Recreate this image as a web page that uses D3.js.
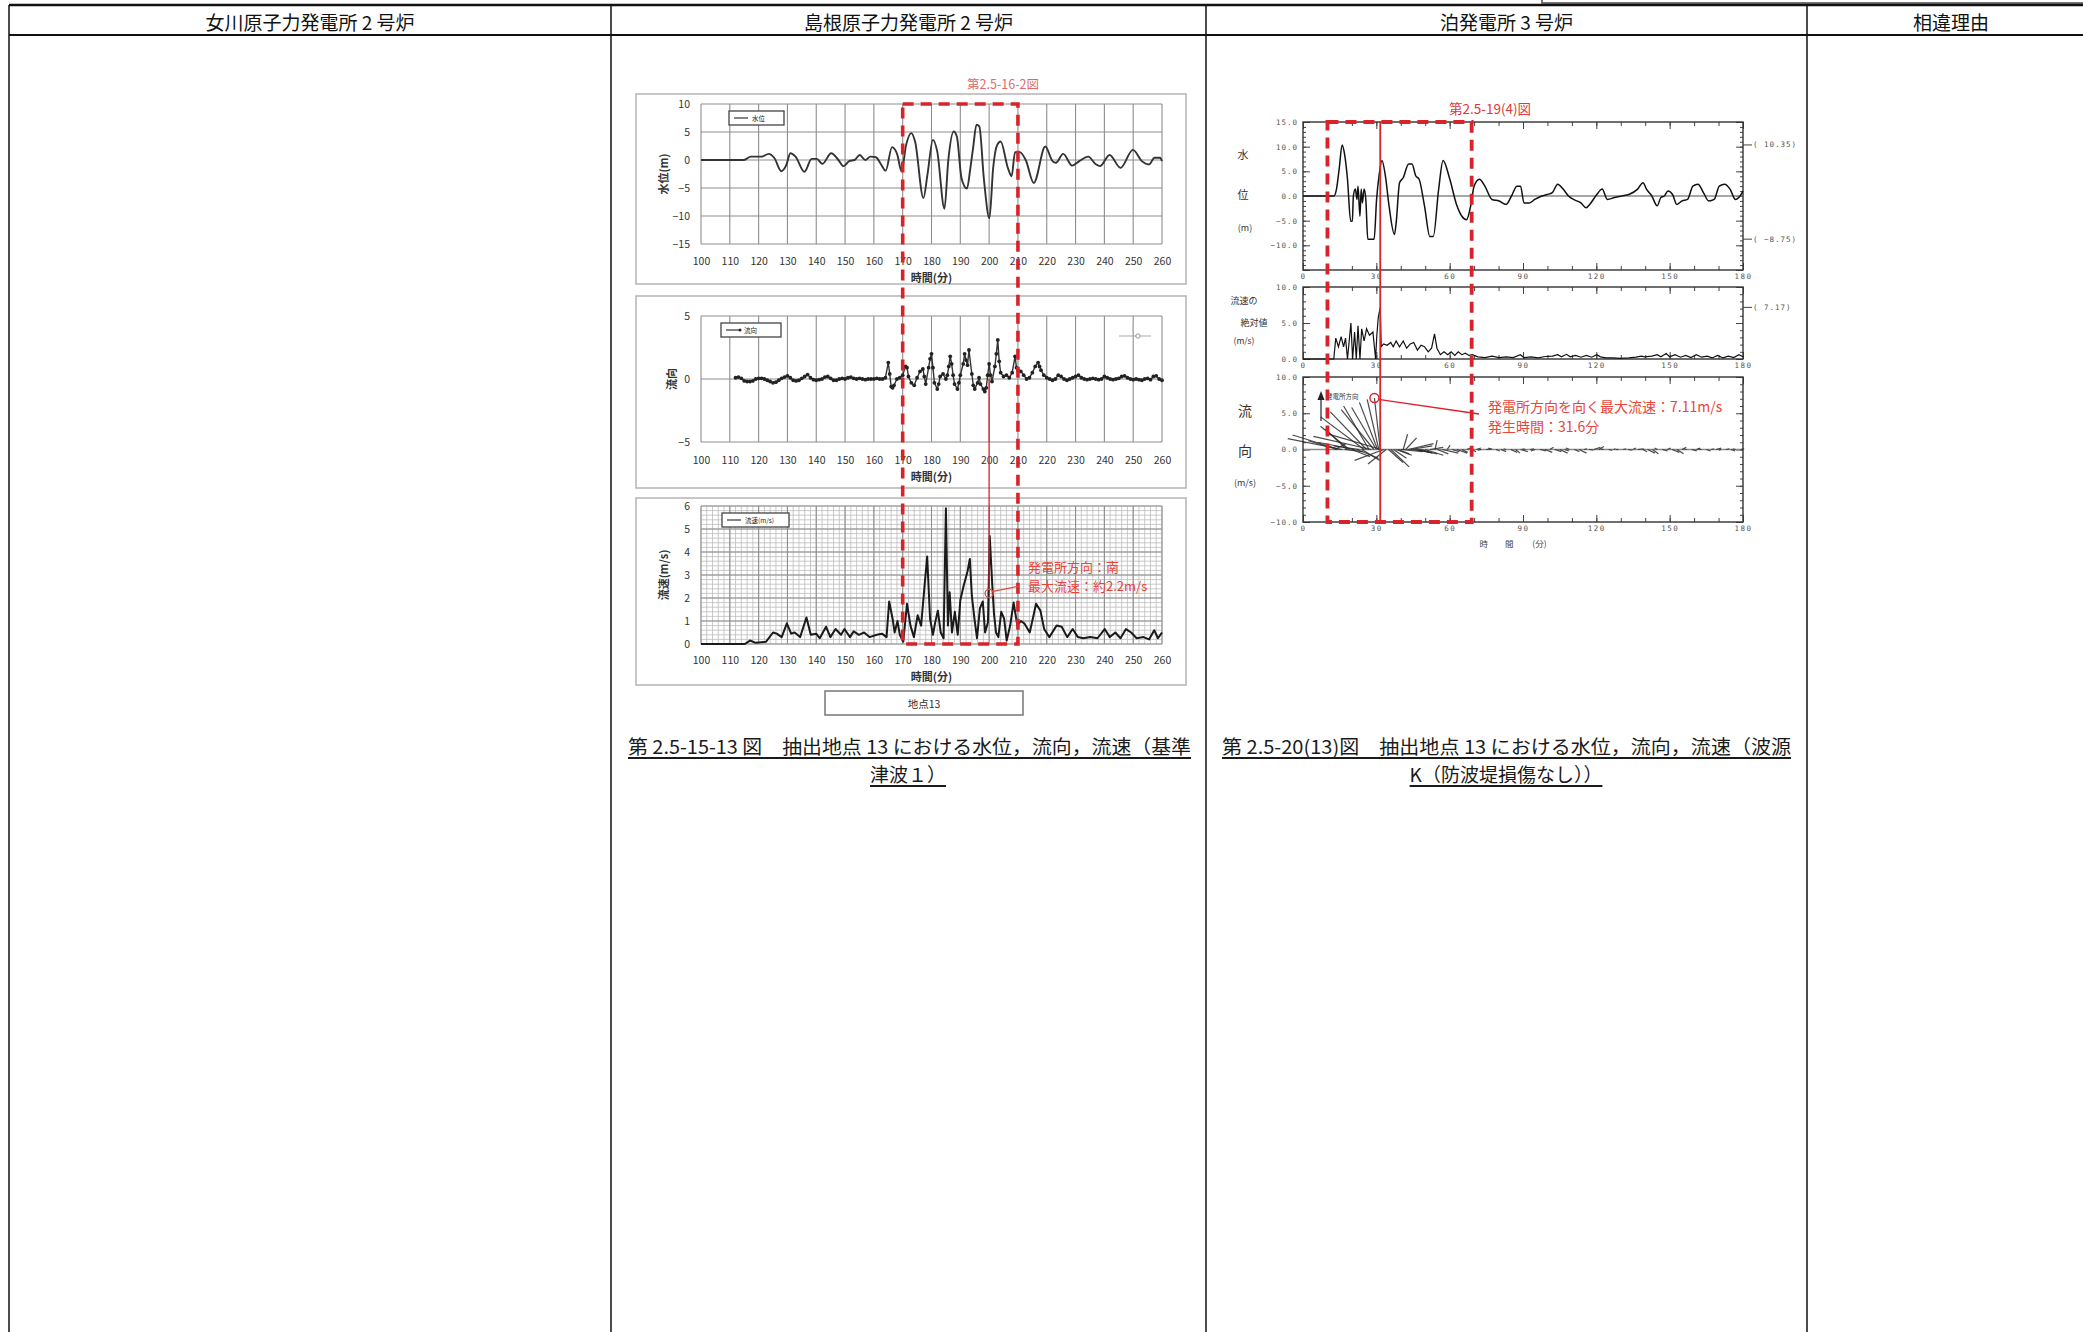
<!DOCTYPE html>
<html>
<head>
<meta charset="utf-8">
<script src="https://cdn.jsdelivr.net/npm/d3@7"></script>
<style>
html, body { margin: 0; padding: 0; background: #fff; }
svg { display: block; }
</style>
</head>
<body>
<svg id="page" width="2083" height="1332"></svg>
<script>
// ---------- table header ----------
const columnTitles = ["女川原子力発電所 2 号炉", "島根原子力発電所 2 号炉", "泊発電所 3 号炉", "相違理由"];

// ---------- Shimane unit 2 : point 13 (time in minutes) ----------
const shimaneTimeTicks = [100, 110, 120, 130, 140, 150, 160, 170, 180, 190, 200, 210, 220, 230, 240, 250, 260];
const shimaneLevelTicks = [10, 5, 0, -5, -10, -15];
const shimaneDirTicks = [5, 0, -5];
const shimaneSpeedTicks = [6, 5, 4, 3, 2, 1, 0];

// water level (m)
const shimaneLevel = [
  [100, 0], [114.9, 0], [117.3, 0.6], [121, 0.6], [123.5, 1.1], [125.4, 0.4], [127.9, -2.0], [129.7, -0.8],
  [131, 1.2], [132.8, 0.6], [135.9, -2.1], [138.4, 0.2], [140.2, 0.2], [142.1, -0.7], [145.2, 1.2], [147.7, 0],
  [149.5, -1.1], [151.4, -0.2], [153.3, 0], [155.1, 0.9], [157, 0], [158.8, 0.6], [160.7, 0.5], [162.5, -0.8],
  [164.1, -1.9], [166.3, 2.3], [168.1, 1.0], [169.6, -2.0], [171.2, 2.7], [173, 4.8], [174.3, 3.3], [177.2, -6.8],
  [178.6, -2.6], [180.5, 3.6], [182, 1.5], [184.5, -8.7], [185.8, -0.2], [187.7, 5.1], [188.8, 4.2], [190.4, -3.2],
  [192.3, -5.1], [193.5, -1.4], [194.5, 2.4], [195.6, 6.3], [196.6, 6.0], [198.2, -3.5], [200.1, -10.4], [201.4, -1.4],
  [202.8, 2.7], [204, 3.3], [206.5, -1.4], [207.8, -2.9], [209, 1.4], [210.6, 1.4], [212.7, 0], [215.5, -4.1],
  [219.5, 2.4], [222, -0.2], [223.2, -0.5], [225.7, 1.1], [228.8, -1.0], [231.3, -0.2], [234.4, 0.6], [236.9, -0.7],
  [238.5, -1.1], [241.8, 0.9], [245.6, -1.4], [249.9, 1.8], [253, -0.2], [255.5, -0.8], [257.4, 0.4], [259.3, 0.4],
  [260, -0.2]
];

// flow direction component (m/s)
const shimaneDirection = [
  [112, 0.1], [113, 0.15], [114, 0.05], [115, -0.15], [116, -0.2], [117, -0.2], [118, -0.15], [119, 0.0], [120, 0.05],
  [121, 0.05], [122, 0.0], [123, -0.1], [124, -0.2], [125, -0.3], [126, -0.25], [127, -0.1], [128, 0.05], [129, 0.15],
  [130, 0.25], [131, 0.1], [132, -0.1], [133, -0.15], [134, -0.1], [135, 0.05], [136, 0.2], [137, 0.35], [138, 0.1],
  [139, -0.05], [140, -0.1], [141, -0.05], [142, 0.0], [143, 0.15], [144, 0.2], [145, 0.05], [146, -0.1], [147, -0.1],
  [148, 0.0], [149, 0.05], [150, 0.0], [151, 0.1], [152, 0.15], [153, 0.05], [154, 0.0], [155, 0.05], [156, 0.0],
  [157, -0.05], [158, 0.0], [159, 0.0], [160, 0.0], [161, 0.05], [162, 0.0], [163, 0.0], [164, 0.1], [165, 1.3],
  [165.5, 0.4], [166, -0.6], [166.5, -0.7], [167, -0.5], [168, 0.0], [169, 0.1], [170, 0.3], [171, 1.0], [171.5, 0.9],
  [172, 0.2], [173, -0.3], [174, -0.5], [175, 0.1], [176, 0.6], [177, 0.8], [177.5, 0.2], [178, -0.4], [179, 0.9],
  [179.5, 1.6], [180, 2.0], [180.5, 0.9], [181, -0.3], [182, -0.8], [182.5, -0.4], [183, 0.2], [184, 0.4], [185, 0.0],
  [185.5, 0.3], [186, 1.0], [186.5, 1.8], [187, 1.2], [187.5, 0.3], [188, -0.4], [189, -0.8], [189.5, -0.3], [190, 0.3],
  [191, 1.2], [191.5, 2.0], [192, 1.5], [192.5, 1.1], [193, 2.3], [194, 0.4], [194.5, -0.5], [195, -0.8], [196, -0.3],
  [196.5, 0.1], [197, -0.4], [198, -0.8], [198.5, -1.0], [199, -0.7], [199.5, 0.3], [200, 1.2], [200.5, 0.3], [201, -0.2],
  [202, 1.0], [202.5, 2.0], [203, 3.1], [203.5, 1.4], [204, 0.5], [205, 0.2], [206, 0.3], [207, 0.1], [208, 0.5],
  [209, 1.8], [209.5, 0.9], [210, 0.7], [211, 0.6], [212, 0.3], [213, 0.0], [214, 0.1], [215, 0.5], [216, 1.0],
  [217, 1.3], [217.5, 1.0], [218, 0.7], [219, 0.3], [220, 0.1], [221, 0.0], [222, -0.1], [223, 0.0], [224, 0.3],
  [225, 0.2], [226, 0.0], [227, -0.1], [228, 0.0], [229, 0.1], [230, 0.2], [231, 0.3], [232, 0.1], [233, 0.0],
  [234, -0.05], [235, 0.0], [236, 0.05], [237, 0.0], [238, -0.05], [239, 0.0], [240, 0.2], [241, 0.1], [242, 0.0],
  [243, -0.05], [244, 0.0], [245, 0.05], [246, 0.2], [247, 0.25], [248, 0.1], [249, 0.0], [250, -0.05], [251, 0.0],
  [252, -0.05], [253, -0.1], [254, 0.0], [255, 0.05], [256, -0.05], [257, 0.2], [258, 0.25], [259, 0.0], [260, -0.1]
];

// current speed (m/s)
const shimaneSpeed = [
  [100, 0], [115.2, 0], [117, 0.15], [119, 0.05], [122.6, 0.1], [125, 0.5], [126.3, 0.45], [128, 0.3], [129.8, 0.9],
  [131.3, 0.45], [132.5, 0.5], [134.4, 0.3], [136.6, 1.15], [138.1, 0.4], [140, 0.45], [141.2, 0.25], [143.4, 0.75],
  [144.9, 0.3], [146.7, 0.65], [148.6, 0.4], [149.8, 0.65], [151.7, 0.3], [153, 0.55], [154.8, 0.4], [156.6, 0.5],
  [158.5, 0.3], [161, 0.4], [162.8, 0.45], [164.4, 0.3], [165.3, 1.85], [166.5, 1.1], [167.2, 0.5], [168.2, 1.0],
  [169, 0.4], [170.2, 0.1], [171.5, 1.75], [172.7, 0.8], [173.9, 0.3], [175.2, 1.25], [176.4, 0.8], [177.6, 2.55],
  [178.5, 3.8], [179.5, 1.1], [180.5, 0.4], [181.3, 0.95], [182.2, 1.45], [183.2, 0.5], [184.2, 0.25], [185, 5.9],
  [185.7, 0.8], [186.3, 2.25], [187.1, 0.5], [188.1, 1.4], [189.1, 0.4], [190, 1.9], [191.2, 2.55], [192.5, 3.15],
  [193.3, 3.7], [194, 2.1], [194.9, 1.1], [195.8, 0.25], [196.8, 1.55], [197.8, 1.85], [198.6, 0.5], [199.6, 0.95],
  [200.2, 4.7], [201.1, 2.55], [201.7, 1.3], [202.4, 0.5], [203.2, 0.3], [204.2, 1.4], [205.2, 1.1], [206.1, 0.15],
  [207.3, 0.8], [208.5, 1.8], [209.8, 0.8], [211, 1.0], [212.2, 0.9], [214.1, 0.5], [216.3, 1.75], [217.8, 1.45],
  [219.1, 0.65], [220.9, 0.3], [223.4, 0.8], [225.2, 0.75], [227.1, 0.3], [229, 0.65], [230.8, 0.3], [232.7, 0.25],
  [235.1, 0.3], [237.6, 0.25], [240.1, 0.65], [241.9, 0.3], [243.8, 0.5], [245.6, 0.25], [247.5, 0.65], [249.3, 0.5],
  [251.2, 0.25], [253.6, 0.3], [255.5, 0.2], [257.3, 0.6], [258.6, 0.25], [260, 0.5]
];

const shimaneWindow = [170, 210];        // highlighted time window (min)
const shimaneMarkTime = 200;             // time of the annotated maximum
const shimaneMarkSpeed = 2.2;            // 最大流速 約2.2m/s
const shimaneNotes = ["発電所方向：南", "最大流速：約2.2m/s"];

// ---------- Tomari unit 3 : point 13 (time in minutes) ----------
const tomariTimeTicks = [0, 30, 60, 90, 120, 150, 180];
const tomariLevelTicks = [15, 10, 5, 0, -5, -10];
const tomariSpeedTicks = [10, 5, 0];
const tomariDirTicks = [10, 5, 0, -5, -10];

// water level (m)
const tomariLevel = [
  [0, 0], [12.6, 0], [13.7, 1.4], [14.8, 5.5], [16, 10.35], [17, 8.5], [18.2, 3.4], [19.5, -5.1], [20.2, -5.1],
  [20.6, 0], [21.4, 1.4], [22.1, -0.7], [22.5, 2.0], [23.3, -4.1], [23.8, 1.4], [24.3, -1.4], [25, 1.4], [25.7, -0.7],
  [26.5, -8.75], [29.1, -8.75], [30.1, -0.7], [31.1, 4.1], [32.3, 7.2], [33.7, 4.1], [35.2, -2.0], [37.4, -7.8],
  [38.1, -5.5], [39.5, 2.7], [41, 3.7], [43.2, 6.5], [44.6, 6.5], [46.1, 4.1], [47.5, 3.4], [49.7, -2.0], [51.9, -8.2],
  [53.3, -8.2], [55.5, 1.4], [57.3, 7.2], [59.9, 3.7], [62.8, -1.7], [65, -4.1], [66.9, -4.8], [68.6, -2.0], [70, 2.0],
  [72.2, 3.4], [74.4, 2.0], [77.3, -0.7], [80.2, -1.0], [83.1, -1.7], [85.3, 0], [87.5, 2.0], [89, 2.0], [90.4, -1.4],
  [92.6, -1.4], [94.8, -0.7], [97.7, 0], [99.9, 0.3], [102, 0.7], [104.2, 2.4], [106.4, 1.4], [108.6, 0], [110.7, -0.7],
  [113.7, -1.4], [115.8, -2.4], [117.3, -1.7], [120.2, 0.3], [122.4, 1.4], [124.5, -0.7], [127.5, -0.3], [130.4, 0],
  [133.3, 0.3], [136.9, 1.4], [139.1, 2.7], [140.5, 1.4], [142.7, 0], [144.9, -2.0], [146.4, -0.3], [147.8, 0],
  [149.3, 1.0], [151.2, 0.3], [152.9, -1.7], [155.1, -1.0], [157.3, -0.7], [159.5, 2.0], [161.6, 2.4], [163.8, 0.7],
  [166, -1.0], [168.2, -0.7], [170.3, 2.0], [172.5, 2.4], [174.7, 1.4], [176.9, -0.7], [178.3, -0.3], [180, 1.0]
];

// absolute current speed (m/s)
const tomariSpeed = [
  [0, 0], [12.6, 0], [13.4, 2.9], [14.5, 1.7], [15.6, 3.1], [16.6, 1.7], [17.4, 2.9], [18.2, 0], [18.9, 2.5],
  [19.6, 5.0], [20.3, 0], [21.1, 3.75], [21.8, 0], [22.5, 4.6], [23.3, 0], [24, 4.2], [25, 2.5], [26, 4.2], [27.2, 3.3],
  [28.6, 3.75], [29.7, 0], [30.2, 3.3], [30.8, 5.8], [31.6, 7.17], [32, 1.7], [33, 2.1], [34.4, 1.9], [35.9, 2.3],
  [36.9, 1.7], [38.1, 2.5], [39.5, 1.7], [41, 2.5], [42.4, 1.5], [43.9, 2.1], [45.3, 2.3], [46.8, 1.25], [48.3, 1.9],
  [49.7, 1.7], [51.2, 1.0], [52.6, 1.5], [53.8, 3.5], [54.8, 1.5], [56.2, 0.6], [57.7, 1.0], [59.2, 0.6], [60.6, 1.0],
  [62.1, 0.5], [63.5, 1.0], [65, 0.6], [66.4, 0.8], [67.9, 0.5], [69.3, 0.6], [71.5, 0.3], [74.4, 0.2], [77.3, 0.4],
  [80.2, 0.2], [83.1, 0.3], [86, 0.2], [88.9, 0.6], [90.4, 0.2], [93.3, 0.3], [96.2, 0.15], [99.1, 0.35], [102, 0.4],
  [104.2, 0.6], [105.7, 0.3], [107.8, 0.65], [109.3, 0.3], [111.5, 0.5], [113.7, 0.25], [115.9, 0.5], [118.1, 0.25],
  [120.2, 0.6], [121.7, 0.3], [123.9, 0.15], [126.8, 0.15], [129.7, 0.1], [133.3, 0.15], [136.2, 0.25], [138.4, 0.4],
  [139.8, 0.3], [142.7, 0.4], [144.9, 0.6], [146.4, 0.3], [148.6, 0.75], [150, 0.3], [152.2, 0.6], [154.4, 0.25],
  [156.6, 0.5], [158.7, 0.2], [160.9, 0.6], [163.1, 0.25], [165.3, 0.4], [167.4, 0.15], [169.6, 0.5], [171.8, 0.15],
  [174, 0.4], [176.2, 0.2], [178.3, 0.6], [180, 0.3]
];

// current vectors: [time, east-west component, toward-plant component] (m/s)
const tomariVectors = [
  [13, 1.5, 0.8], [14, -4.0, 1.2], [15, -6.5, 2.0], [16, -7.5, 1.5], [17, 2.5, -0.3], [18, -3.0, 2.8], [19, -4.0, 3.2],
  [20, 2.5, -1.0], [21, -5.0, 1.0], [22, 3.0, -1.2], [23, -3.5, 0.5], [24, 2.5, -1.5], [25, -6.0, 4.5], [26, -5.0, 5.2],
  [27, -3.5, 6.0], [28, -8.0, 1.8], [29, -4.5, 5.5], [30, -3.4, 5.8], [30.5, -2.5, 6.5], [31, -1.6, 6.9], [31.6, -0.8, 7.11],
  [32, -7.5, 2.2], [33, -4.0, -1.5], [34, -2.5, -2.0], [35, 2.0, -1.8], [36, 2.5, -2.4], [37, 1.8, -1.2], [38, 2.2, -0.8],
  [39, 1.5, -0.6], [40, 3.0, -0.3], [41, 0.6, 2.1], [42, 1.5, 1.6], [43, 3.5, 0.8], [44, 3.0, 0.5], [45, 2.5, -0.4],
  [46, 3.0, -0.6], [47, 2.0, -0.5], [48, 1.2, -0.3], [50, 2.5, -0.8], [52, 1.8, 0.3], [54, 0.3, 1.3], [55, 1.5, -0.6],
  [57, 2.2, -0.5], [59, 0.4, 0.6], [61, 1.0, -0.3], [63, 1.4, -0.5], [65, 0.8, -0.4], [67, 0.5, 0.2], [69, 0.6, -0.3],
  [71, 0.6, 0.2], [73, -0.5, -0.1], [75, 0.8, 0.1], [77, -0.4, 0.2], [79, 0.5, -0.2], [81, 0.7, -0.3], [83, -0.3, 0.1],
  [85, 0.9, -0.4], [87, 0.6, -0.5], [89, 1.0, -0.3], [91, -0.4, 0.1], [93, 0.5, 0.1], [95, -0.6, -0.2], [97, 0.8, -0.2],
  [99, 1.0, -0.4], [101, 0.5, 0.3], [103, 0.9, -0.3], [105, 1.1, -0.5], [107, 0.6, -0.2], [109, -0.5, 0.2], [111, 0.7, -0.3],
  [113, 1.0, -0.5], [115, 0.4, 0.1], [117, 0.6, -0.1], [119, 0.9, 0.3], [121, 0.7, 0.4], [123, -0.4, 0.1], [125, 0.5, -0.1],
  [127, 0.3, 0.1], [129, -0.3, 0.0], [131, 0.4, 0.1], [133, 0.6, -0.1], [135, 0.4, 0.2], [137, 0.8, 0.1], [139, 0.6, -0.3],
  [141, 1.0, -0.5], [143, 0.8, -0.6], [145, -0.4, 0.2], [147, 0.7, -0.2], [149, 0.5, 0.2], [151, 1.0, -0.4], [153, 0.9, -0.6],
  [155, 0.6, 0.3], [157, -0.4, 0.1], [159, 0.7, -0.2], [161, 0.5, 0.2], [163, -0.5, 0.1], [165, 0.6, -0.2], [167, 0.4, 0.1],
  [169, 0.7, 0.2], [171, -0.3, -0.1], [173, 0.5, 0.1], [175, 0.6, -0.2], [177, -0.4, 0.1], [179, 0.5, 0.1]
];

const tomariWindow = [10, 69];
const tomariMarkTime = 31.6;             // 発生時間 31.6分
const tomariMaxLevel = 10.35, tomariMinLevel = -8.75, tomariMaxSpeed = 7.17;
const tomariNotes = ["発電所方向を向く最大流速：7.11m/s", "発生時間：31.6分"];

const captions = {
  shimane: ["第 2.5-15-13 図　抽出地点 13 における水位，流向，流速（基準", "津波１）"],
  tomari: ["第 2.5-20(13)図　抽出地点 13 における水位，流向，流速（波源", "K（防波堤損傷なし））"]
};

// ======================================================================
const svg = d3.select("#page");
const JP = "'Noto Sans CJK JP', 'Noto Sans', sans-serif";
const MONO = "'DejaVu Sans Mono', 'Liberation Mono', monospace";
const RED = "#d8232a";
const NOTE_RED = "#e8453c";

// ---------- comparison table frame ----------
const colX = [9, 611, 1206, 1807, 2095];
const frame = svg.append("g");
frame.append("rect").attr("x", 1542).attr("y", -10).attr("width", 600).attr("height", 13)
  .attr("fill", "none").attr("stroke", "#666").attr("stroke-width", 1.8);
frame.append("line").attr("x1", colX[0]).attr("x2", 2083).attr("y1", 5).attr("y2", 5)
  .attr("stroke", "#111").attr("stroke-width", 2.5);
frame.append("line").attr("x1", colX[0]).attr("x2", 2083).attr("y1", 35).attr("y2", 35)
  .attr("stroke", "#111").attr("stroke-width", 2.2);
frame.selectAll("line.col").data(colX.slice(0, 4)).join("line").attr("class", "col")
  .attr("x1", d => d).attr("x2", d => d).attr("y1", 5).attr("y2", 1332)
  .attr("stroke", "#111").attr("stroke-width", 1.5);
frame.selectAll("text.head").data(columnTitles).join("text").attr("class", "head")
  .attr("x", (d, i) => (colX[i] + colX[i + 1]) / 2).attr("y", 21)
  .attr("text-anchor", "middle").attr("dominant-baseline", "central")
  .attr("font-family", JP).attr("font-size", 19).attr("fill", "#111")
  .text(d => d);

// ---------- Shimane charts ----------
const sx = d3.scaleLinear().domain([100, 260]).range([701, 1162]);
const shimaneLayers = svg.append("g").attr("class", "shimane");

function shimanePanel(opt) {
  const g = shimaneLayers.append("g");
  const y = d3.scaleLinear().domain(opt.domain).range(opt.range);
  g.append("rect").attr("x", 636).attr("y", opt.box[0]).attr("width", 550).attr("height", opt.box[1])
    .attr("fill", "#fff").attr("stroke", "#b8b8b8").attr("stroke-width", 1.6);
  const [yTop, yBot] = opt.range;
  if (opt.fine) {
    g.append("g").selectAll("line").data(d3.range(100, 261, 2)).join("line")
      .attr("x1", d => sx(d)).attr("x2", d => sx(d)).attr("y1", yTop).attr("y2", yBot)
      .attr("stroke", "#bdbdbd").attr("stroke-width", 0.8);
    g.append("g").selectAll("line").data(d3.range(0, 6.01, 0.2)).join("line")
      .attr("x1", sx(100)).attr("x2", sx(260)).attr("y1", d => y(d)).attr("y2", d => y(d))
      .attr("stroke", "#bdbdbd").attr("stroke-width", 0.8);
  }
  g.append("g").selectAll("line").data(shimaneTimeTicks).join("line")
    .attr("x1", d => sx(d)).attr("x2", d => sx(d)).attr("y1", yTop).attr("y2", yBot)
    .attr("stroke", "#8e8e8e").attr("stroke-width", 1.1);
  g.append("g").selectAll("line").data(opt.ticks).join("line")
    .attr("x1", sx(100)).attr("x2", sx(260)).attr("y1", d => y(d)).attr("y2", d => y(d))
    .attr("stroke", "#8e8e8e").attr("stroke-width", 1.1);

  // tick labels
  const xa = g.append("g").attr("transform", `translate(0,${opt.labelY})`)
    .call(d3.axisBottom(sx).tickValues(shimaneTimeTicks).tickSize(0).tickFormat(d3.format("d")));
  xa.select(".domain").remove();
  xa.selectAll("text").attr("y", 0).attr("dy", "0.35em").attr("font-size", 10.5)
    .attr("font-family", JP).attr("fill", "#333");
  const ya = g.append("g").attr("transform", "translate(690,0)")
    .call(d3.axisLeft(y).tickValues(opt.ticks).tickSize(0).tickFormat(d3.format("d")));
  ya.select(".domain").remove();
  ya.selectAll("text").attr("x", 0).attr("font-size", 10.5).attr("font-family", JP).attr("fill", "#333");

  g.append("text").attr("x", (sx(100) + sx(260)) / 2).attr("y", opt.labelY + 16)
    .attr("text-anchor", "middle").attr("dominant-baseline", "central")
    .attr("font-family", JP).attr("font-size", 11).attr("font-weight", 700).attr("fill", "#333").text("時間(分)");
  g.append("text").attr("transform", `translate(${opt.titleX},${(yTop + yBot) / 2}) rotate(-90)`)
    .attr("text-anchor", "middle").attr("dominant-baseline", "central")
    .attr("font-family", JP).attr("font-size", 11).attr("font-weight", 700).attr("fill", "#333").text(opt.title);

  // legend
  const lg = g.append("g");
  lg.append("rect").attr("x", opt.legend[0]).attr("y", opt.legend[1]).attr("width", opt.legend[2]).attr("height", 14)
    .attr("fill", "#fff").attr("stroke", "#444").attr("stroke-width", 1.3);
  lg.append("line").attr("x1", opt.legend[0] + 5).attr("x2", opt.legend[0] + 19)
    .attr("y1", opt.legend[1] + 7).attr("y2", opt.legend[1] + 7).attr("stroke", "#222").attr("stroke-width", 1.1);
  if (opt.legendMarker) {
    lg.append("circle").attr("cx", opt.legend[0] + 19).attr("cy", opt.legend[1] + 7).attr("r", 1.5).attr("fill", "#222");
  }
  lg.append("text").attr("x", opt.legend[0] + 23).attr("y", opt.legend[1] + 7).attr("dominant-baseline", "central")
    .attr("font-family", JP).attr("font-size", 6.5).attr("fill", "#222").text(opt.legendText);
  return { g, y };
}

const sp1 = shimanePanel({ domain: [10, -15], range: [104, 244], box: [94, 190], ticks: shimaneLevelTicks,
  labelY: 261, title: "水位(m)", titleX: 663, legend: [729, 111, 55], legendText: "水位" });
sp1.g.append("path").datum(shimaneLevel)
  .attr("d", d3.line().x(d => sx(d[0])).y(d => sp1.y(d[1])).curve(d3.curveMonotoneX))
  .attr("fill", "none").attr("stroke", "#333").attr("stroke-width", 1.9);

const sp2 = shimanePanel({ domain: [5, -5], range: [316, 442], box: [296, 192], ticks: shimaneDirTicks,
  labelY: 460, title: "流向", titleX: 671, legend: [721, 323, 60], legendText: "流向", legendMarker: true });
sp2.g.append("path").datum(shimaneDirection)
  .attr("d", d3.line().x(d => sx(d[0])).y(d => sp2.y(d[1])))
  .attr("fill", "none").attr("stroke", "#333").attr("stroke-width", 1.4);
sp2.g.append("g").selectAll("circle").data(shimaneDirection).join("circle")
  .attr("cx", d => sx(d[0])).attr("cy", d => sp2.y(d[1])).attr("r", 1.9).attr("fill", "#222");
// small grey key symbol at the upper right of the direction panel
sp2.g.append("line").attr("x1", 1119).attr("x2", 1151).attr("y1", 336).attr("y2", 336).attr("stroke", "#aaa").attr("stroke-width", 1);
sp2.g.append("circle").attr("cx", 1138).attr("cy", 336).attr("r", 2.2).attr("fill", "#fff").attr("stroke", "#999");
sp2.g.append("line").attr("x1", 1133).attr("x2", 1133).attr("y1", 322).attr("y2", 332).attr("stroke", "#bbb").attr("stroke-width", 1);

const sp3 = shimanePanel({ domain: [6, 0], range: [506, 644], box: [498, 187], ticks: shimaneSpeedTicks,
  labelY: 660, title: "流速(m/s)", titleX: 663, legend: [722, 513, 67], legendText: "流速(m/s)", fine: true });
sp3.g.append("path").datum(shimaneSpeed)
  .attr("d", d3.line().x(d => sx(d[0])).y(d => sp3.y(d[1])))
  .attr("fill", "none").attr("stroke", "#1a1a1a").attr("stroke-width", 2)
  .attr("stroke-linejoin", "round");

// station label
shimaneLayers.append("rect").attr("x", 825).attr("y", 691).attr("width", 198).attr("height", 24)
  .attr("fill", "#fff").attr("stroke", "#777").attr("stroke-width", 1.5);
shimaneLayers.append("text").attr("x", 924).attr("y", 703).attr("text-anchor", "middle").attr("dominant-baseline", "central")
  .attr("font-family", JP).attr("font-size", 10.5).attr("fill", "#333").text("地点13");

// highlighted window and annotations
const sAnn = shimaneLayers.append("g");
sAnn.append("rect").attr("x", sx(shimaneWindow[0])).attr("y", sp1.y(10))
  .attr("width", sx(shimaneWindow[1]) - sx(shimaneWindow[0])).attr("height", sp3.y(0) - sp1.y(10))
  .attr("fill", "none").attr("stroke", RED).attr("stroke-width", 3.6).attr("stroke-dasharray", "11 7");
const sMarkX = sx(shimaneMarkTime), sMarkY = sp3.y(shimaneMarkSpeed);
sAnn.append("line").attr("x1", sMarkX).attr("x2", sMarkX).attr("y1", sp2.y(0)).attr("y2", sMarkY - 4)
  .attr("stroke", RED).attr("stroke-width", 1.3);
sAnn.append("circle").attr("cx", sMarkX).attr("cy", sMarkY).attr("r", 4).attr("fill", "none")
  .attr("stroke", NOTE_RED).attr("stroke-width", 1.3);
sAnn.append("line").attr("x1", sMarkX + 4).attr("y1", sMarkY - 2).attr("x2", 1020).attr("y2", 586)
  .attr("stroke", NOTE_RED).attr("stroke-width", 1.2);
sAnn.selectAll("text.note").data(shimaneNotes).join("text").attr("class", "note")
  .attr("x", 1028).attr("y", (d, i) => 566 + i * 19).attr("dominant-baseline", "central")
  .attr("font-family", JP).attr("font-size", 13).attr("fill", NOTE_RED).text(d => d);
sAnn.append("text").attr("x", 1003).attr("y", 83).attr("text-anchor", "middle").attr("dominant-baseline", "central")
  .attr("font-family", JP).attr("font-size", 12.5).attr("fill", "#e06a6a").text("第2.5-16-2図");

// ---------- Tomari charts ----------
const tx = d3.scaleLinear().domain([0, 180]).range([1303, 1743]);
const tomariLayers = svg.append("g").attr("class", "tomari");

function tomariPanel(opt) {
  const g = tomariLayers.append("g");
  const y = d3.scaleLinear().domain(opt.domain).range([opt.top, opt.bottom]);
  const [lo, hi] = [Math.min(...opt.domain), Math.max(...opt.domain)];
  const minor = d3.range(lo, hi + 0.01, 1);
  const major = d3.range(lo, hi + 0.01, 5);
  const tMinor = d3.range(0, 181, 10);
  const tick = (sel, axis) => { sel.call(axis); sel.select(".domain").remove(); sel.selectAll("text").remove();
    sel.selectAll("line").attr("stroke", "#444").attr("stroke-width", 1); };
  g.append("g").attr("transform", `translate(${tx(0)},0)`).call(s => tick(s, d3.axisRight(y).tickValues(minor).tickSize(3)));
  g.append("g").attr("transform", `translate(${tx(0)},0)`).call(s => tick(s, d3.axisRight(y).tickValues(major).tickSize(7)));
  g.append("g").attr("transform", `translate(${tx(180)},0)`).call(s => tick(s, d3.axisLeft(y).tickValues(minor).tickSize(3)));
  g.append("g").attr("transform", `translate(${tx(180)},0)`).call(s => tick(s, d3.axisLeft(y).tickValues(major).tickSize(7)));
  g.append("g").attr("transform", `translate(0,${opt.top})`).call(s => tick(s, d3.axisBottom(tx).tickValues(tMinor).tickSize(4)));
  g.append("g").attr("transform", `translate(0,${opt.top})`).call(s => tick(s, d3.axisBottom(tx).tickValues(tomariTimeTicks).tickSize(7)));
  g.append("g").attr("transform", `translate(0,${opt.bottom})`).call(s => tick(s, d3.axisTop(tx).tickValues(tMinor).tickSize(4)));
  g.append("g").attr("transform", `translate(0,${opt.bottom})`).call(s => tick(s, d3.axisTop(tx).tickValues(tomariTimeTicks).tickSize(7)));
  if (opt.zero) {
    g.append("line").attr("x1", tx(0)).attr("x2", tx(180)).attr("y1", y(0)).attr("y2", y(0))
      .attr("stroke", "#8a8a8a").attr("stroke-width", 1.3);
  }
  g.append("rect").attr("x", tx(0)).attr("y", opt.top).attr("width", tx(180) - tx(0)).attr("height", opt.bottom - opt.top)
    .attr("fill", "none").attr("stroke", "#333").attr("stroke-width", 1.4);

  const ya = g.append("g").attr("transform", `translate(${tx(0) - 5},0)`)
    .call(d3.axisLeft(y).tickValues(opt.labels).tickSize(0).tickFormat(d3.format(".1f")));
  ya.select(".domain").remove();
  ya.selectAll("text").attr("x", 0).attr("font-family", MONO).attr("font-size", 7.5)
    .attr("letter-spacing", 1).attr("fill", "#555");
  const xa = g.append("g").attr("transform", `translate(0,${opt.bottom + 6})`)
    .call(d3.axisBottom(tx).tickValues(tomariTimeTicks).tickSize(0).tickFormat(d3.format("d")));
  xa.select(".domain").remove();
  xa.selectAll("text").attr("y", 0).attr("dy", "0.35em").attr("font-family", MONO).attr("font-size", 7.5)
    .attr("letter-spacing", 1.5).attr("fill", "#555");
  return { g, y };
}

function sideValue(g, yPos, txt) {
  g.append("line").attr("x1", tx(180)).attr("x2", tx(180) + 9).attr("y1", yPos).attr("y2", yPos)
    .attr("stroke", "#444").attr("stroke-width", 1);
  g.append("text").attr("x", tx(180) + 10).attr("y", yPos).attr("dominant-baseline", "central")
    .attr("font-family", MONO).attr("font-size", 7.5).attr("letter-spacing", 1).attr("fill", "#555").text(txt);
}
function sideTitle(g, x, y, txt, size) {
  g.append("text").attr("x", x).attr("y", y).attr("text-anchor", "middle").attr("dominant-baseline", "central")
    .attr("font-family", JP).attr("font-size", size).attr("fill", "#333").text(txt);
}

const tp1 = tomariPanel({ domain: [15, -15], top: 122, bottom: 270, labels: tomariLevelTicks, zero: true });
tp1.g.append("path").datum(tomariLevel)
  .attr("d", d3.line().x(d => tx(d[0])).y(d => tp1.y(d[1])).curve(d3.curveMonotoneX))
  .attr("fill", "none").attr("stroke", "#111").attr("stroke-width", 1.5);
sideValue(tp1.g, tp1.y(tomariMaxLevel), "( " + d3.format(".2f")(tomariMaxLevel) + ")");
sideValue(tp1.g, tp1.y(tomariMinLevel), "( " + d3.format(".2f")(tomariMinLevel) + ")");
sideTitle(tp1.g, 1243, 154, "水", 11);
sideTitle(tp1.g, 1243, 194, "位", 11);
sideTitle(tp1.g, 1245, 227, "(m)", 9);

const tp2 = tomariPanel({ domain: [10, 0], top: 287, bottom: 359, labels: tomariSpeedTicks });
tp2.g.append("path").datum(tomariSpeed)
  .attr("d", d3.line().x(d => tx(d[0])).y(d => tp2.y(d[1])))
  .attr("fill", "none").attr("stroke", "#111").attr("stroke-width", 1.2);
sideValue(tp2.g, tp2.y(tomariMaxSpeed), "(  " + d3.format(".2f")(tomariMaxSpeed) + ")");
sideTitle(tp2.g, 1244, 300, "流速の", 9);
sideTitle(tp2.g, 1254, 322, "絶対値", 9);
sideTitle(tp2.g, 1244, 340, "(m/s)", 8.5);

const tp3 = tomariPanel({ domain: [10, -10], top: 377, bottom: 522, labels: tomariDirTicks, zero: true });
const k = tp3.y(0) - tp3.y(1);   // pixels per m/s, same on both stick components
tp3.g.append("g").selectAll("line").data(tomariVectors).join("line")
  .attr("x1", d => tx(d[0])).attr("y1", tp3.y(0))
  .attr("x2", d => tx(d[0]) + d[1] * k).attr("y2", d => tp3.y(d[2]))
  .attr("stroke", "#2a2a2a").attr("stroke-width", 1.2).attr("stroke-opacity", 0.85);
sideTitle(tp3.g, 1245, 410, "流", 14);
sideTitle(tp3.g, 1245, 450, "向", 14);
sideTitle(tp3.g, 1245, 482, "(m/s)", 9);
tp3.g.append("text").attr("x", (tx(0) + tx(180)) / 2 - 10).attr("y", 543).attr("text-anchor", "middle")
  .attr("dominant-baseline", "central").attr("font-family", JP).attr("font-size", 8.5).attr("fill", "#444")
  .attr("xml:space", "preserve").text("時　　間　　 (分)");
// toward-plant direction key
tp3.g.append("line").attr("x1", 1321).attr("x2", 1321).attr("y1", 421).attr("y2", 398).attr("stroke", "#222").attr("stroke-width", 1.2);
tp3.g.append("path").attr("d", "M1317.5,400 L1321,391 L1324.5,400 Z").attr("fill", "#222");
tp3.g.append("text").attr("x", 1326).attr("y", 396).attr("dominant-baseline", "central")
  .attr("font-family", JP).attr("font-size", 6.5).attr("fill", "#333").text("発電所方向");

// highlighted window and annotations
const tAnn = tomariLayers.append("g");
tAnn.append("rect").attr("x", tx(tomariWindow[0])).attr("y", tp1.y(15))
  .attr("width", tx(tomariWindow[1]) - tx(tomariWindow[0])).attr("height", tp3.y(-10) - tp1.y(15))
  .attr("fill", "none").attr("stroke", RED).attr("stroke-width", 3.8).attr("stroke-dasharray", "11 7");
tAnn.append("line").attr("x1", tx(tomariMarkTime)).attr("x2", tx(tomariMarkTime)).attr("y1", tp1.y(15)).attr("y2", tp3.y(-10))
  .attr("stroke", RED).attr("stroke-width", 1.8);
const peak = tomariVectors.find(d => d[0] === tomariMarkTime);
const cx = tx(peak[0]) + peak[1] * k, cy = tp3.y(peak[2]);
tAnn.append("circle").attr("cx", cx).attr("cy", cy).attr("r", 4.5).attr("fill", "none").attr("stroke", RED).attr("stroke-width", 1.4);
tAnn.append("line").attr("x1", cx + 4).attr("y1", cy + 1.5).attr("x2", 1479).attr("y2", 414).attr("stroke", RED).attr("stroke-width", 1.3);
tAnn.selectAll("text.note").data(tomariNotes).join("text").attr("class", "note")
  .attr("x", 1488).attr("y", (d, i) => 406 + i * 20).attr("dominant-baseline", "central")
  .attr("font-family", JP).attr("font-size", 14).attr("fill", NOTE_RED).text(d => d);
tAnn.append("text").attr("x", 1490).attr("y", 108).attr("text-anchor", "middle").attr("dominant-baseline", "central")
  .attr("font-family", JP).attr("font-size", 13.5).attr("fill", "#e03838").text("第2.5-19(4)図");

// ---------- figure captions ----------
function caption(lines, x0, width, xc) {
  const g = svg.append("g");
  g.append("text").attr("x", x0).attr("y", 754).attr("font-family", JP).attr("font-size", 19)
    .attr("fill", "#1a1a1a").attr("textLength", width).attr("lengthAdjust", "spacingAndGlyphs").text(lines[0]);
  g.append("line").attr("x1", x0).attr("x2", x0 + width).attr("y1", 758).attr("y2", 758).attr("stroke", "#1a1a1a").attr("stroke-width", 2);
  const t2 = g.append("text").attr("x", xc).attr("y", 782).attr("text-anchor", "middle").attr("font-family", JP)
    .attr("font-size", 19).attr("fill", "#1a1a1a").text(lines[1]);
  const w2 = t2.node().getComputedTextLength();
  g.append("line").attr("x1", xc - w2 / 2).attr("x2", xc + w2 / 2).attr("y1", 786).attr("y2", 786).attr("stroke", "#1a1a1a").attr("stroke-width", 2);
}
caption(captions.shimane, 628, 563, 908);
caption(captions.tomari, 1222, 569, 1506);
</script>
</body>
</html>
